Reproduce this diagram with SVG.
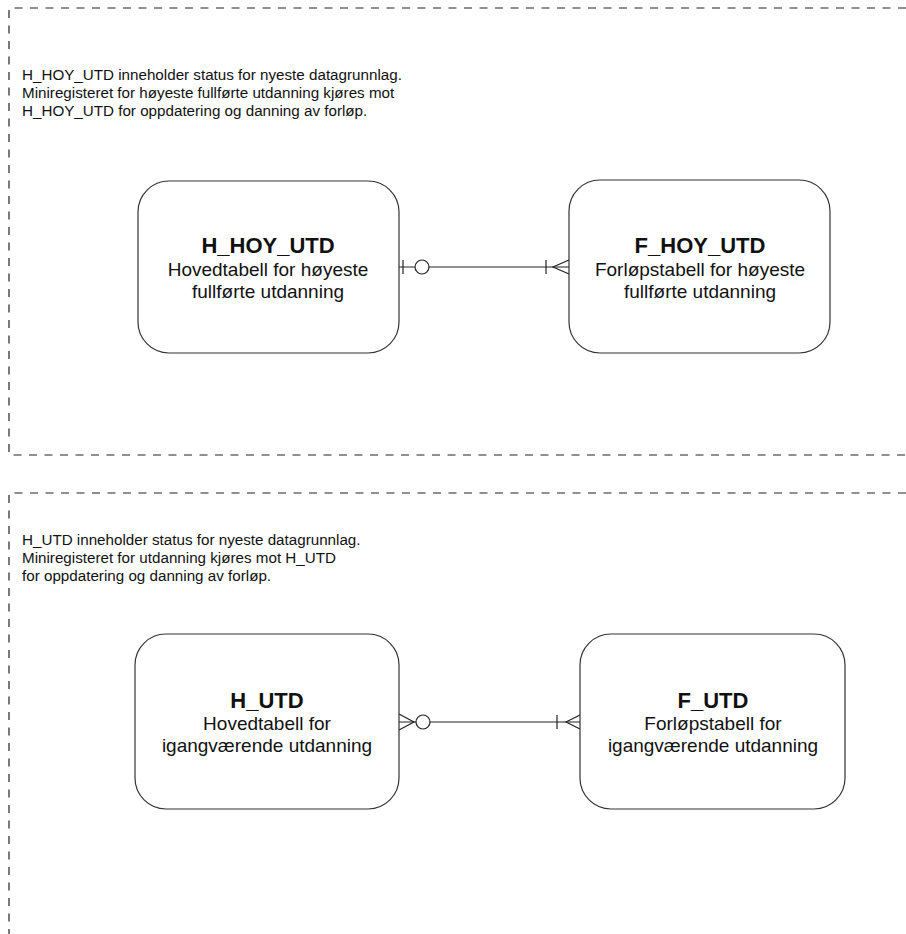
<svg xmlns="http://www.w3.org/2000/svg" width="906" height="934" viewBox="0 0 906 934">
<style>
.frame{fill:none;stroke:#222;stroke-width:1.2;stroke-dasharray:8 7.5}
.box{fill:#fff;stroke:#333;stroke-width:1.2}
.conn{fill:none;stroke:#222;stroke-width:1.2}
.circ{fill:#fff;stroke:#222;stroke-width:1.2}
.desc{font-family:"Liberation Sans",Arial,sans-serif;font-size:15.2px;fill:#111}
.title{font-family:"Liberation Sans",Arial,sans-serif;font-size:22px;font-weight:bold;fill:#111;text-anchor:middle}
.sub{font-family:"Liberation Sans",Arial,sans-serif;font-size:19px;fill:#111;text-anchor:middle}
</style>
<rect width="906" height="934" fill="#fff"/>
<g id="frames">
<path class="frame" d="M906 8 H9 V455 H906"/>
<path class="frame" d="M906 493 H9 V934"/>
</g>
<g id="notes">
<text class="desc" x="22" y="80">H_HOY_UTD inneholder status for nyeste datagrunnlag.</text>
<text class="desc" x="22" y="98">Miniregisteret for høyeste fullførte utdanning kjøres mot</text>
<text class="desc" x="22" y="116">H_HOY_UTD for oppdatering og danning av forløp.</text>
<text class="desc" x="22" y="545">H_UTD inneholder status for nyeste datagrunnlag.</text>
<text class="desc" x="22" y="563">Miniregisteret for utdanning kjøres mot H_UTD</text>
<text class="desc" x="22" y="581">for oppdatering og danning av forløp.</text>
</g>
<g id="connectors">
<line class="conn" x1="399" y1="267" x2="569" y2="267"/>
<line class="conn" x1="403" y1="260" x2="403" y2="274"/>
<circle class="circ" cx="422" cy="267" r="7"/>
<line class="conn" x1="546" y1="260" x2="546" y2="274"/>
<path class="conn" d="M569 260 L553 267 L569 274"/>
<line class="conn" x1="399" y1="722" x2="580" y2="722"/>
<path class="conn" d="M399 714 L414 722 L399 730"/>
<circle class="circ" cx="423" cy="722" r="7"/>
<line class="conn" x1="557" y1="715" x2="557" y2="729"/>
<path class="conn" d="M580 715 L566 722 L580 729"/>
</g>
<g id="H_HOY_UTD">
<rect class="box" x="138" y="181" width="261" height="172" rx="31"/>
<text class="title" x="268" y="253">H_HOY_UTD</text>
<text class="sub" x="268" y="276">Hovedtabell for høyeste</text>
<text class="sub" x="268" y="298">fullførte utdanning</text>
</g>
<g id="F_HOY_UTD">
<rect class="box" x="569" y="180" width="261" height="173" rx="31"/>
<text class="title" x="700" y="253">F_HOY_UTD</text>
<text class="sub" x="700" y="276">Forløpstabell for høyeste</text>
<text class="sub" x="700" y="298">fullførte utdanning</text>
</g>
<g id="H_UTD">
<rect class="box" x="135" y="634" width="264" height="175" rx="31"/>
<text class="title" x="267" y="708">H_UTD</text>
<text class="sub" x="267" y="730">Hovedtabell for</text>
<text class="sub" x="267" y="752">igangværende utdanning</text>
</g>
<g id="F_UTD">
<rect class="box" x="580" y="634" width="265" height="175" rx="31"/>
<text class="title" x="713" y="708">F_UTD</text>
<text class="sub" x="713" y="730">Forløpstabell for</text>
<text class="sub" x="713" y="752">igangværende utdanning</text>
</g>
</svg>
